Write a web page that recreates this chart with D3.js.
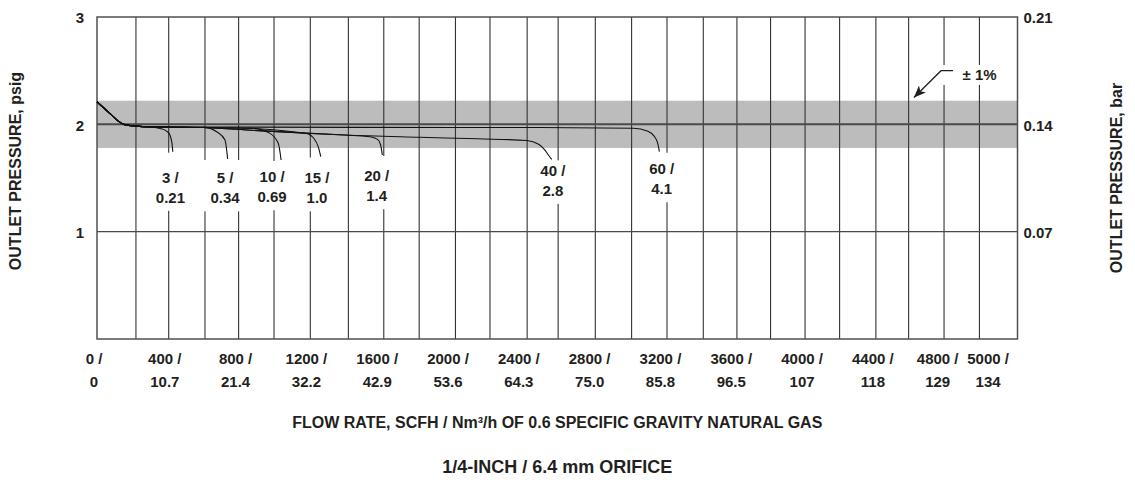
<!DOCTYPE html>
<html lang="en">
<head>
<meta charset="UTF-8">
<title>Outlet pressure vs flow rate</title>
<script src="https://cdn.jsdelivr.net/npm/d3@7/dist/d3.min.js"></script>
<style>
    body { margin: 0; background: #fff; }
    svg { display: block; font-family: "Liberation Sans", Arial, sans-serif; font-weight: 700; }
    text { fill: #231f20; }
</style>
</head>
<body>
<div id="container"></div>
<script>
"use strict";

// x axis ticks: SCFH / Nm3/h
var flowTicks = [0, 400, 800, 1200, 1600, 2000, 2400, 2800, 3200, 3600, 4000, 4400, 4800, 5000];
var metricTicks = ["0", "10.7", "21.4", "32.2", "42.9", "53.6", "64.3", "75.0", "85.8", "96.5", "107", "118", "129", "134"];

// vertical rules as drawn on the sheet (SCFH)
var gridFlows = [220, 405, 610, 800, 1000, 1205, 1420, 1620, 1820, 2025, 2220, 2430, 2605, 2815,
    3020, 3220, 3425, 3615, 3805, 4000, 4195, 4400, 4585, 4785, 4985];

// y axis ticks: psig / bar
var psigTicks = [1, 2, 3];
var barTicks = [0.07, 0.14, 0.21];

// +/- 1% band around setpoint (psig)
var band = [1.78, 2.22];

// inlet pressure labels (psig / bar)
var inletPsig = ["3", "5", "10", "15", "20", "40", "60"];
var inletBar = ["0.21", "0.34", "0.69", "1.0", "1.4", "2.8", "4.1"];

// curves: [flow SCFH, outlet psig]
var start = [[0, 2.21], [40, 2.15], [80, 2.09], [120, 2.03], [160, 1.995], [220, 1.983]];
var curve3 = start.concat([[300, 1.976], [356, 1.962], [395, 1.935], [412, 1.90], [424, 1.82], [428, 1.745]]);
var curve5 = start.concat([[300, 1.976], [605, 1.972], [676, 1.931], [723, 1.854], [738, 1.677]]);
var curve10 = start.concat([[300, 1.976], [600, 1.970], [883, 1.963], [977, 1.916], [1024, 1.823], [1040, 1.668]]);
var curve15 = start.concat([[300, 1.976], [600, 1.970], [860, 1.963], [1109, 1.931], [1190, 1.912], [1222, 1.875], [1250, 1.79], [1264, 1.70]]);
var curve20 = start.concat([[300, 1.976], [600, 1.970], [846, 1.947], [1100, 1.925], [1400, 1.900], [1542, 1.885], [1585, 1.86], [1602, 1.81], [1612, 1.714]]);
var curve40 = start.concat([[300, 1.976], [600, 1.970], [846, 1.947], [1100, 1.925], [1400, 1.900], [1825, 1.879], [2150, 1.865], [2428, 1.850], [2495, 1.815], [2528, 1.765], [2552, 1.71], [2569, 1.674]]);
var curve60 = start.concat([[300, 1.976], [1500, 1.972], [2500, 1.970], [3030, 1.963], [3112, 1.935], [3145, 1.895], [3168, 1.82], [3177, 1.745]]);
var curves = [curve3, curve5, curve10, curve15, curve20, curve40, curve60];

// label anchors: flow (SCFH) and first-line psig
var labelFlow = [415, 723, 989, 1243, 1580, 2575, 3190];
var labelPsig = [1.455, 1.45, 1.46, 1.45, 1.47, 1.52, 1.535];

// +/- 1% callout: text, elbow, tip (SCFH, psig)
var calloutText = [4890, 2.46];
var calloutPath = [[4836, 2.50], [4768, 2.50], [4615, 2.25]];

var config = {
    width: 1135,
    height: 487,
    margin: { top: 17, left: 97, right: 117.5, bottom: 148 }
};

var plotW = config.width - config.margin.left - config.margin.right;
var plotH = config.height - config.margin.top - config.margin.bottom;

var x = d3.scaleLinear().domain([0, 5200]).range([0, plotW]);
var y = d3.scaleLinear().domain([0, 3]).range([plotH, 0]);
var yBar = d3.scaleLinear().domain([0, 0.21]).range([plotH, 0]);

// the sheet sets its x labels a little left of the ticks, and spreads the last two
function tickNudge(d) {
    if (d === 4800) return -9;
    if (d === 5000) return 6;
    return -3;
}

var svg = d3.select('#container')
    .append('svg')
    .attr('width', config.width)
    .attr('height', config.height);

var defs = svg.append('defs');
defs.append('marker')
    .attr('id', 'arrow')
    .attr('viewBox', '0 0 12 10')
    .attr('refX', 12)
    .attr('refY', 5)
    .attr('markerWidth', 12)
    .attr('markerHeight', 10)
    .attr('markerUnits', 'userSpaceOnUse')
    .attr('orient', 'auto')
    .append('path')
    .attr('d', 'M0,0 L12,5 L0,10 L3,5 Z')
    .attr('fill', '#231f20');

var g = svg.append('g')
    .attr('transform', `translate(${config.margin.left}, ${config.margin.top})`);

// shaded band
g.append('rect')
    .attr('x', 0)
    .attr('y', y(band[1]))
    .attr('width', plotW)
    .attr('height', y(band[0]) - y(band[1]))
    .attr('fill', '#bcbcbc');

// vertical rules
g.selectAll('.vgrid')
    .data(gridFlows)
    .enter()
    .append('line')
    .attr('class', 'vgrid')
    .attr('x1', d => x(d)).attr('x2', d => x(d))
    .attr('y1', 0).attr('y2', plotH)
    .attr('stroke', '#333')
    .attr('stroke-width', 1.1);

// horizontal rules
g.selectAll('.hgrid')
    .data([1, 2])
    .enter()
    .append('line')
    .attr('class', 'hgrid')
    .attr('x1', 0).attr('x2', plotW)
    .attr('y1', d => y(d)).attr('y2', d => y(d))
    .attr('stroke', '#4a4a4a')
    .attr('stroke-width', d => d === 2 ? 2 : 1.3);

// frame
g.append('rect')
    .attr('x', 0).attr('y', 0)
    .attr('width', plotW).attr('height', plotH)
    .attr('fill', 'none')
    .attr('stroke', '#505050')
    .attr('stroke-width', 1.5);

// white boxes that break the rules behind the curve labels
var labels = inletPsig.map(function (p, i) {
    var c = curves[i];
    return { top: c[c.length - 1][1], flow: labelFlow[i], psig: labelPsig[i], l1: p + ' /', l2: inletBar[i] };
});

g.selectAll('.labelbox')
    .data(labels)
    .enter()
    .append('rect')
    .attr('class', 'labelbox')
    .attr('x', d => x(d.flow) - 21)
    .attr('y', d => y(d.top) + 1)
    .attr('width', 42)
    .attr('height', d => y(d.psig) + 27 - y(d.top))
    .attr('fill', '#fff');

// curves
var line = d3.line()
    .x(d => x(d[0]))
    .y(d => y(d[1]))
    .curve(d3.curveMonotoneX);

g.selectAll('.curve')
    .data(curves)
    .enter()
    .append('path')
    .attr('class', 'curve')
    .attr('d', line)
    .attr('fill', 'none')
    .attr('stroke', '#111')
    .attr('stroke-width', 1.1);

// curve labels
var lab = g.selectAll('.clabel')
    .data(labels)
    .enter()
    .append('text')
    .attr('class', 'clabel')
    .attr('text-anchor', 'middle')
    .style('font-size', '15px');

lab.append('tspan')
    .attr('x', d => x(d.flow))
    .attr('y', d => y(d.psig))
    .text(d => d.l1);

lab.append('tspan')
    .attr('x', d => x(d.flow))
    .attr('y', d => y(d.psig) + 20)
    .text(d => d.l2);

// left axis labels
g.selectAll('.ytick')
    .data(psigTicks)
    .enter()
    .append('text')
    .attr('class', 'ytick')
    .attr('x', -17)
    .attr('y', d => y(d) + 1)
    .attr('dy', '0.35em')
    .attr('text-anchor', 'middle')
    .style('font-size', '15px')
    .text(d => d);

// right axis labels
g.selectAll('.bartick')
    .data(barTicks)
    .enter()
    .append('text')
    .attr('class', 'bartick')
    .attr('x', plotW + 6)
    .attr('y', d => yBar(d) + 1)
    .attr('dy', '0.35em')
    .attr('text-anchor', 'start')
    .style('font-size', '15px')
    .text(d => d.toFixed(2));

// x axis labels
var xl = g.selectAll('.xtick')
    .data(flowTicks)
    .enter()
    .append('text')
    .attr('class', 'xtick')
    .attr('text-anchor', 'middle')
    .style('font-size', '15px');

xl.append('tspan')
    .attr('x', d => x(d) + tickNudge(d))
    .attr('y', plotH + 25)
    .text(d => d + ' /');

xl.append('tspan')
    .attr('x', d => x(d) + tickNudge(d))
    .attr('y', plotH + 48)
    .text((d, i) => metricTicks[i]);

// +/- 1% callout
g.append('rect')
    .attr('x', x(calloutText[0]) - 26)
    .attr('y', y(calloutText[1]) - 10)
    .attr('width', 66)
    .attr('height', 20)
    .attr('fill', '#fff');

g.append('path')
    .attr('d', d3.line().x(d => x(d[0])).y(d => y(d[1]))(calloutPath))
    .attr('fill', 'none')
    .attr('stroke', '#231f20')
    .attr('stroke-width', 1.3)
    .attr('marker-end', 'url(#arrow)');

g.append('text')
    .attr('x', x(calloutText[0]))
    .attr('y', y(calloutText[1]))
    .attr('dy', '0.35em')
    .style('font-size', '15px')
    .text('\u00b1 1%');

// axis titles
svg.append('text')
    .attr('transform', 'translate(21, 171) rotate(-90)')
    .attr('text-anchor', 'middle')
    .style('font-size', '16px')
    .text('OUTLET PRESSURE, psig');

svg.append('text')
    .attr('transform', 'translate(1122, 178) rotate(-90)')
    .attr('text-anchor', 'middle')
    .style('font-size', '16px')
    .text('OUTLET PRESSURE, bar');

svg.append('text')
    .attr('x', config.margin.left + plotW / 2)
    .attr('y', 428)
    .attr('text-anchor', 'middle')
    .style('font-size', '16px')
    .text('FLOW RATE, SCFH / Nm\u00b3/h OF 0.6 SPECIFIC GRAVITY NATURAL GAS');

svg.append('text')
    .attr('x', config.margin.left + plotW / 2)
    .attr('y', 472.5)
    .attr('text-anchor', 'middle')
    .style('font-size', '18px')
    .text('1/4-INCH / 6.4 mm ORIFICE');
</script>
</body>
</html>
